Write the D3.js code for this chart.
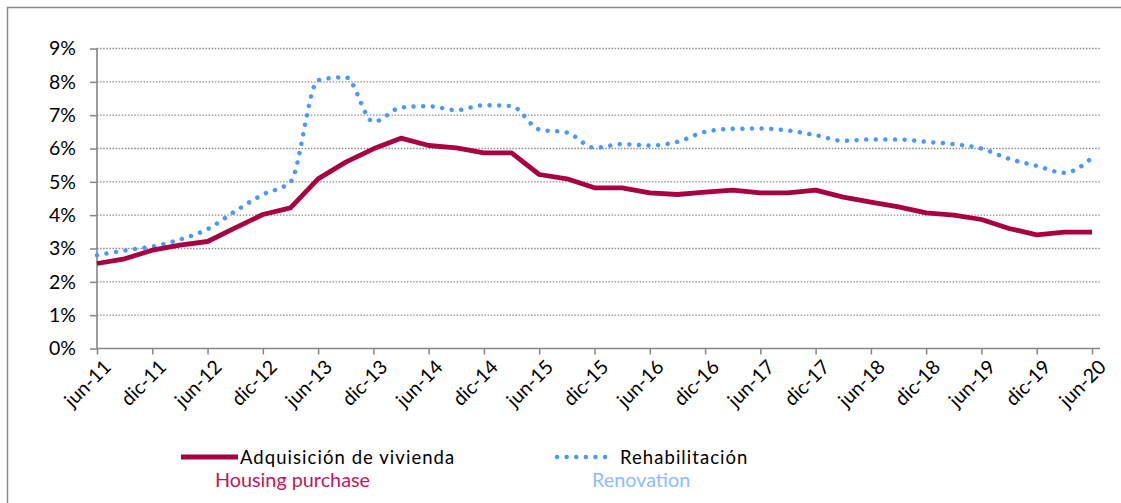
<!DOCTYPE html>
<html>
<head>
<meta charset="utf-8">
<script src="https://cdn.jsdelivr.net/npm/d3@7"></script>
<style>
  body { margin: 0; background: #fff; }
  svg { font-family: Lato, "Open Sans", sans-serif; }
</style>
</head>
<body>
<div id="chart"></div>
<script>
// quarterly categories, jun-11 .. jun-20
var quarters = ["jun-11","sep-11","dic-11","mar-12","jun-12","sep-12","dic-12","mar-13","jun-13","sep-13",
                "dic-13","mar-14","jun-14","sep-14","dic-14","mar-15","jun-15","sep-15","dic-15","mar-16",
                "jun-16","sep-16","dic-16","mar-17","jun-17","sep-17","dic-17","mar-18","jun-18","sep-18",
                "dic-18","mar-19","jun-19","sep-19","dic-19","mar-20","jun-20"];

var tickLabels = ["jun-11","dic-11","jun-12","dic-12","jun-13","dic-13","jun-14","dic-14","jun-15","dic-15",
                  "jun-16","dic-16","jun-17","dic-17","jun-18","dic-18","jun-19","dic-19","jun-20"];

var yTicks = [0, 1, 2, 3, 4, 5, 6, 7, 8, 9];

// Adquisición de vivienda / Housing purchase (%)
var purchase = [2.55, 2.69, 2.95, 3.10, 3.21, 3.62, 4.02, 4.22, 5.09, 5.59,
                5.99, 6.31, 6.09, 6.02, 5.87, 5.87, 5.22, 5.09, 4.82, 4.82,
                4.67, 4.62, 4.69, 4.75, 4.67, 4.67, 4.75, 4.54, 4.39, 4.25,
                4.07, 4.00, 3.87, 3.60, 3.41, 3.49, 3.49];

// Rehabilitación / Renovation (%)
var renovation = [2.80, 2.94, 3.06, 3.27, 3.58, 4.12, 4.62, 5.00, 8.05, 8.14,
                  6.80, 7.23, 7.27, 7.15, 7.30, 7.27, 6.57, 6.48, 6.02, 6.13,
                  6.09, 6.20, 6.50, 6.59, 6.60, 6.54, 6.40, 6.23, 6.27, 6.27,
                  6.20, 6.13, 6.00, 5.69, 5.48, 5.27, 5.72];

var width = 1121, height = 503;
var axisColor = "#868686";

var svg = d3.select("#chart").append("svg")
    .attr("width", width)
    .attr("height", height);

// outer frame (runs off the right and bottom edges)
svg.append("rect")
    .attr("x", 7.5).attr("y", 7.5)
    .attr("width", 1300).attr("height", 700)
    .style("fill", "none")
    .style("stroke", "#8a8a8a")
    .style("stroke-width", 1.5);

var x = d3.scalePoint()
    .domain(quarters)
    .range([97, 1092]);

var y = d3.scaleLinear()
    .domain([0, 9])
    .range([348.5, 48.5]);

var plotRight = 1100;

// gridlines
svg.append("g").selectAll("line")
    .data(yTicks.filter(function(d) { return d > 0; }))
    .enter().append("line")
    .attr("x1", 97).attr("x2", plotRight)
    .attr("y1", function(d) { return y(d); })
    .attr("y2", function(d) { return y(d); })
    .style("stroke", "#8c8c8c")
    .style("stroke-width", 1.4)
    .style("stroke-dasharray", "1.5,1.6");

// y axis
var yAxis = svg.append("g")
    .attr("transform", "translate(97,0)")
    .call(d3.axisLeft(y).tickValues(yTicks).tickSize(7).tickPadding(14)
          .tickFormat(function(d) { return d + "%"; }));
yAxis.select(".domain").remove();
yAxis.selectAll("line").style("stroke", axisColor).style("stroke-width", 1.5);
yAxis.selectAll("text")
    .style("font-family", "Lato, sans-serif")
    .style("font-size", "19.5px")
    .style("fill", "#000");
svg.append("line")
    .attr("x1", 97).attr("x2", 97)
    .attr("y1", y(9)).attr("y2", y(0))
    .style("stroke", axisColor).style("stroke-width", 1.6);

// x axis
var xAxis = svg.append("g")
    .attr("transform", "translate(0," + y(0) + ")")
    .call(d3.axisBottom(x).tickValues(tickLabels).tickSize(6));
xAxis.select(".domain").remove();
xAxis.selectAll("line").style("stroke", axisColor).style("stroke-width", 1.5);
xAxis.selectAll("text")
    .attr("x", 0).attr("y", 0).attr("dy", "0.35em")
    .attr("transform", "translate(10,15) rotate(-45)")
    .style("text-anchor", "end")
    .style("font-family", "Lato, sans-serif")
    .style("font-size", "19.5px")
    .style("fill", "#000");
svg.append("line")
    .attr("x1", 97).attr("x2", plotRight)
    .attr("y1", y(0)).attr("y2", y(0))
    .style("stroke", axisColor).style("stroke-width", 1.6);

// lines
var purchaseLine = d3.line()
    .x(function(d, i) { return x(quarters[i]); })
    .y(function(d) { return y(d); });

var renovationLine = d3.line()
    .curve(d3.curveMonotoneX)
    .x(function(d, i) { return x(quarters[i]); })
    .y(function(d) { return y(d); });

svg.append("path")
    .datum(renovation)
    .attr("d", renovationLine)
    .style("fill", "none")
    .style("stroke", "#4a97ff")
    .style("stroke-width", 4.5)
    .style("stroke-linecap", "round")
    .style("stroke-dasharray", "0.01,9.6");

svg.append("path")
    .datum(purchase)
    .attr("d", purchaseLine)
    .style("fill", "none")
    .style("stroke", "#a80040")
    .style("stroke-width", 4.8)
    .style("stroke-linejoin", "round");

// legend
var legend = svg.append("g").style("font-family", "Lato, sans-serif").style("font-size", "18.5px");

legend.append("line")
    .attr("x1", 181).attr("x2", 238).attr("y1", 457).attr("y2", 457)
    .style("stroke", "#a80040").style("stroke-width", 4.8);
legend.append("text").attr("x", 240).attr("y", 464).style("fill", "#000")
    .style("letter-spacing", "1.05px")
    .text("Adquisición de vivienda");
legend.append("text").attr("x", 215).attr("y", 487).style("fill", "#c0185a")
    .style("font-size", "19.8px")
    .text("Housing purchase");

legend.append("line")
    .attr("x1", 557).attr("x2", 612).attr("y1", 457).attr("y2", 457)
    .style("stroke", "#4a97ff").style("stroke-width", 4.5)
    .style("stroke-linecap", "round")
    .style("stroke-dasharray", "0.01,9.6");
legend.append("text").attr("x", 620).attr("y", 464).style("fill", "#000")
    .style("letter-spacing", "1.05px")
    .text("Rehabilitación");
legend.append("text").attr("x", 592).attr("y", 487).style("fill", "#8dbcff")
    .style("font-size", "19.8px")
    .text("Renovation");
</script>
</body>
</html>
